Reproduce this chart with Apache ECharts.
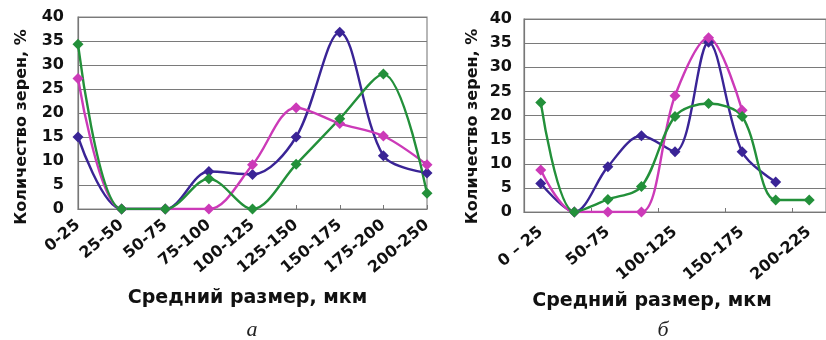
<!DOCTYPE html>
<html>
<head>
<meta charset="utf-8">
<script src="https://cdn.jsdelivr.net/npm/echarts@6/dist/echarts.min.js"></script>
<style>
html,body{margin:0;padding:0;background:#ffffff;}
#chart{width:826px;height:340px;}
</style>
</head>
<body>
<div id="chart"></div>
<script>
// Panel "а"
const categoriesA = ['0-25','25-50','50-75','75-100','100-125','125-150','150-175','175-200','200-250'];
const blueA  = [15, 0, 0, 7.8, 7.2, 15, 36.8, 11.1, 7.5];
const pinkA  = [27.2, 0, 0, 0, 9.2, 21.1, 17.8, 15.2, 9.2];
const greenA = [34.3, 0, 0, 6.3, 0, 9.3, 18.8, 28.1, 3.3];

// Panel "б"
const categoriesB = ['0 – 25','25-50','50-75','75-100','100-125','125-150','150-175','175-200','200-225'];
const blueB  = [5.9, 0, 9.4, 15.8, 12.5, 35.2, 12.5, 6.2, null];
const pinkB  = [8.7, 0, 0, 0, 24.1, 36.1, 21.1, null, null];
const greenB = [22.7, 0, 2.6, 5.3, 19.8, 22.5, 19.8, 2.5, 2.5];

const yTicks = {min: 0, max: 40, interval: 5};
const yTitle = 'Количество зерен, %';
const xTitle = 'Средний размер, мкм';

const COLORS = {blue: '#3a2496', pink: '#cc3ab8', green: '#23903a'};
const FONT = '"DejaVu Sans", sans-serif';

function yAxis(gridIndex, nameGap, margin, shift) {
  return {
    type: 'value', gridIndex, min: yTicks.min, max: yTicks.max, interval: yTicks.interval,
    name: yTitle, nameLocation: 'middle', nameGap,
    nameTextStyle: {fontFamily: FONT, fontWeight: 'bold', fontSize: 16, color: '#111', padding: [0, shift, 0, 0]},
    axisLine: {show: true, lineStyle: {color: '#777', width: 1.2}},
    axisTick: {show: false},
    axisLabel: {fontFamily: FONT, fontWeight: 'bold', fontSize: 16, color: '#111', margin},
    splitLine: {show: true, lineStyle: {color: '#7a7a7a', width: 1.2}}
  };
}

function xAxis(gridIndex, data, boundaryGap, interval, pad, margin) {
  return {
    type: 'category', gridIndex, data, boundaryGap,
    name: xTitle, nameLocation: 'middle', nameGap: 80,
    nameTextStyle: {fontFamily: FONT, fontWeight: 'bold', fontSize: 19, color: '#111', padding: pad},
    axisLine: {show: true, lineStyle: {color: '#777', width: 1.2}},
    axisTick: {show: true, inside: true, length: 4, alignWithLabel: !boundaryGap, lineStyle: {color: '#777'}},
    axisLabel: {fontFamily: FONT, fontWeight: 'bold', fontSize: 16, color: '#111', rotate: 40, interval, margin}
  };
}

function line(name, data, color, xi, yi) {
  return {
    name, type: 'line', data, xAxisIndex: xi, yAxisIndex: yi,
    smooth: 0.33, symbol: 'diamond', symbolSize: 11, connectNulls: false,
    lineStyle: {color, width: 2.4}, itemStyle: {color}, z: 3
  };
}

const chart = echarts.init(document.getElementById('chart'), null, {renderer: 'canvas'});
chart.setOption({
  backgroundColor: '#ffffff',
  animation: false,
  title: [
    {text: 'а', left: 247, top: 314, textAlign: 'center', textStyle: {fontFamily: '"Liberation Serif", serif', fontStyle: 'italic', fontWeight: 'normal', fontSize: 22, color: '#222'}},
    {text: 'б', left: 658, top: 314, textAlign: 'center', textStyle: {fontFamily: '"Liberation Serif", serif', fontStyle: 'italic', fontWeight: 'normal', fontSize: 22, color: '#222'}}
  ],
  grid: [
    {left: 78, top: 17, width: 349, height: 192, show: true, borderColor: '#888', borderWidth: 1.2, backgroundColor: 'transparent'},
    {left: 524, top: 19, width: 311, height: 193, show: true, borderColor: '#888', borderWidth: 1.2, backgroundColor: 'transparent'}
  ],
  xAxis: [
    xAxis(0, categoriesA, false, 0, [0, 10, 0, 0], 14),
    xAxis(1, categoriesB, true, 1, [0, 46, 0, 0], 18)
  ],
  yAxis: [
    yAxis(0, 48, 14, 28),
    yAxis(1, 43, 12, 22)
  ],
  series: [
    line('blueA', blueA, COLORS.blue, 0, 0),
    line('pinkA', pinkA, COLORS.pink, 0, 0),
    line('greenA', greenA, COLORS.green, 0, 0),
    line('blueB', blueB, COLORS.blue, 1, 1),
    line('pinkB', pinkB, COLORS.pink, 1, 1),
    line('greenB', greenB, COLORS.green, 1, 1)
  ]
});
</script>
</body>
</html>
